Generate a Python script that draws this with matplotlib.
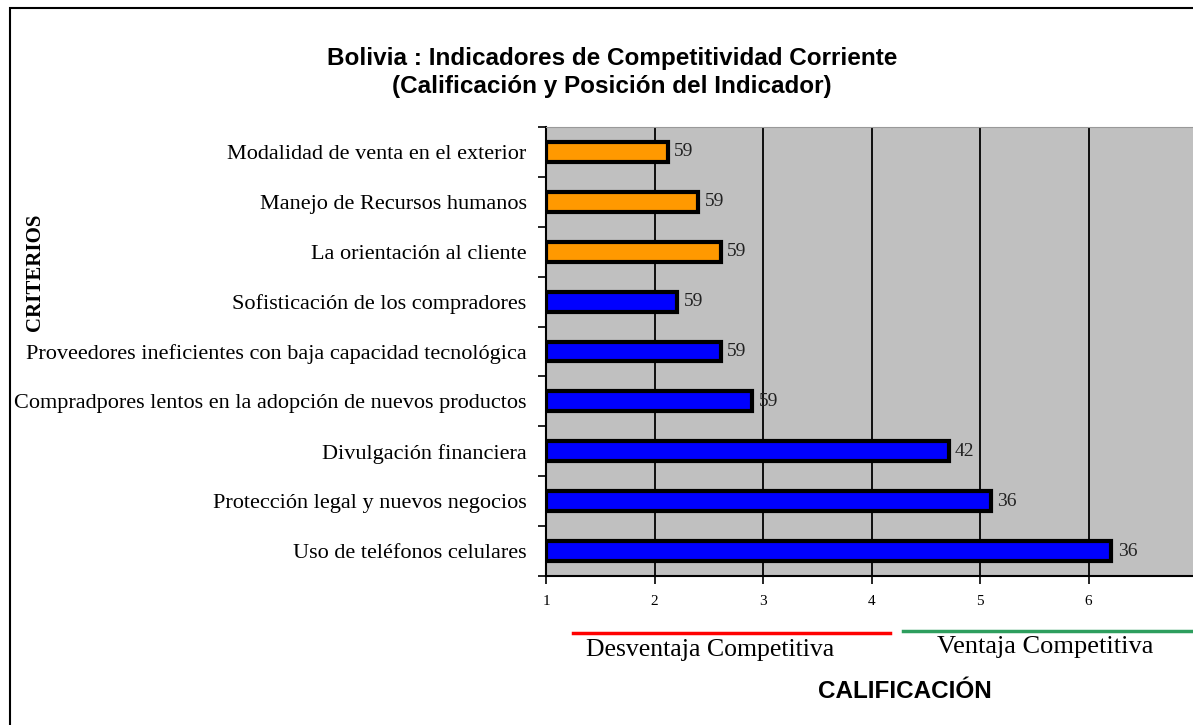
import matplotlib.pyplot as plt
from matplotlib.patches import Rectangle
from matplotlib.lines import Line2D

categorias = [
    "Modalidad de venta en el exterior",
    "Manejo de Recursos humanos",
    "La orientación al cliente",
    "Sofisticación de los compradores",
    "Proveedores ineficientes con baja capacidad tecnológica",
    "Compradpores lentos en la adopción de nuevos productos",
    "Divulgación financiera",
    "Protección legal y nuevos negocios",
    "Uso de teléfonos celulares",
]
calificacion = [2.12, 2.40, 2.61, 2.21, 2.61, 2.90, 4.71, 5.10, 6.21]
posicion = [59, 59, 59, 59, 59, 59, 42, 36, 36]
colores = ["#FF9900"] * 3 + ["#0000FF"] * 6
xticks = [1, 2, 3, 4, 5, 6, 7]

serif = ["Liberation Serif", "DejaVu Serif"]
sans = ["Liberation Sans", "DejaVu Sans"]

fig = plt.figure(figsize=(11.93, 7.25), dpi=100)
fig.patch.set_facecolor("white")

# outer frame
fig.add_artist(Rectangle((10 / 1193, -0.01), 1.2, (725 - 8) / 725 + 0.01,
                         transform=fig.transFigure, fill=False,
                         edgecolor="black", linewidth=1.5))

ax = fig.add_axes([546 / 1193, 1 - 576 / 725, (1197 - 546) / 1193, (576 - 127) / 725])
ax.set_facecolor("#C0C0C0")

y = list(range(len(categorias)))
ax.barh(y, [v - 1 for v in calificacion], left=1, height=0.4, color=colores,
        edgecolor="black", linewidth=3, zorder=3)
for yi, v, p in zip(y, calificacion, posicion):
    ax.text(v + 0.06, yi, str(p), va="center", ha="left", fontsize=14,
            family=serif, color="#222222", zorder=4)

ax.set_xlim(1, 7)
ax.set_ylim(len(categorias) - 0.5, -0.5)
ax.set_xticks(xticks)
ax.set_xticklabels([str(t) for t in xticks], family=serif, fontsize=11)
ax.set_yticks(y)
ax.set_yticklabels(categorias, family=serif, fontsize=16)
ax.tick_params(axis="y", length=0, pad=14)
ax.set_yticks([i + 0.5 for i in range(-1, len(categorias))], minor=True)
ax.tick_params(axis="y", which="minor", length=6, width=1.2, direction="out")
ax.tick_params(axis="x", length=6, width=1.2, direction="out", pad=8)
ax.grid(axis="x", color="black", linewidth=1.3, zorder=1)
ax.set_axisbelow(True)
for s in ["left", "bottom"]:
    ax.spines[s].set_linewidth(1.5)
ax.spines["right"].set_visible(False)
ax.spines["top"].set_color("#999999")

fig.text(612 / 1193, 1 - 58 / 725, "Bolivia : Indicadores de Competitividad Corriente",
         ha="center", va="center", fontsize=17.5, fontweight="bold", family=sans)
fig.text(612 / 1193, 1 - 87 / 725, "(Calificación y Posición del Indicador)",
         ha="center", va="center", fontsize=17.5, fontweight="bold", family=sans)

fig.text(35 / 1193, 1 - 272 / 725, "CRITERIOS", rotation=90, ha="center", va="center",
         fontsize=15, fontweight="bold", family=serif, fontstretch="condensed")

fig.add_artist(Line2D([573 / 1193, 890 / 1193], [1 - 633 / 725] * 2, color="#FF0000",
                      linewidth=2.5, transform=fig.transFigure))
fig.add_artist(Line2D([903 / 1193, 1193 / 1193], [1 - 631 / 725] * 2, color="#2E9E5E",
                      linewidth=2.5, transform=fig.transFigure))
fig.text(710 / 1193, 1 - 650 / 725, "Desventaja Competitiva", ha="center", va="center",
         fontsize=18.5, family=serif)
fig.text(1045 / 1193, 1 - 647 / 725, "Ventaja Competitiva", ha="center", va="center",
         fontsize=19, family=serif)
fig.text(905 / 1193, 1 - 692 / 725, "CALIFICACIÓN", ha="center", va="center",
         fontsize=17.5, fontweight="bold", family=sans)

fig.savefig("out.png", dpi=100)
